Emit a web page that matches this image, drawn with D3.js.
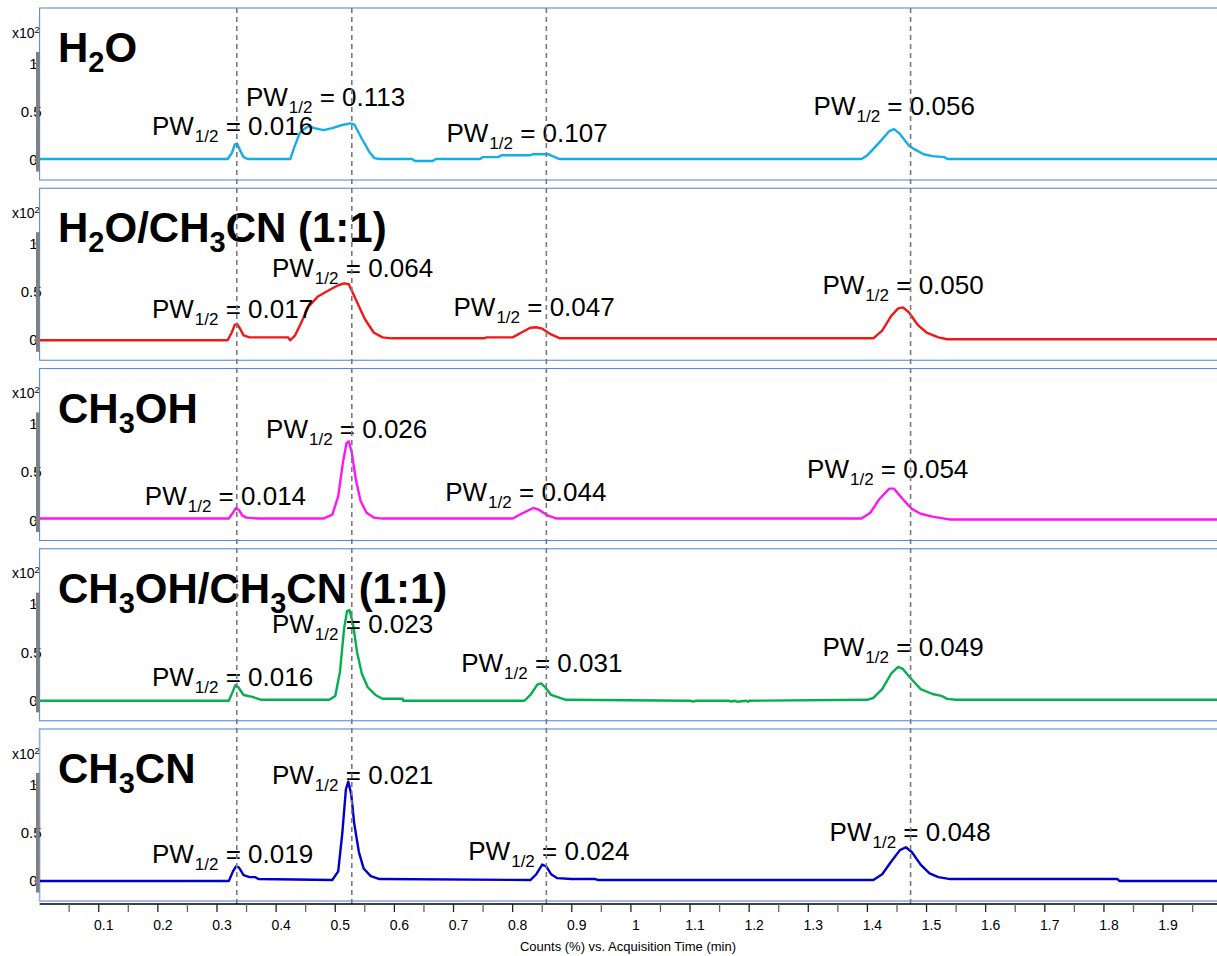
<!DOCTYPE html>
<html><head><meta charset="utf-8">
<script src="https://cdn.jsdelivr.net/npm/d3@7"></script>
<style>
html,body{margin:0;padding:0;background:#fff;}
svg text{font-family:"Liberation Sans",Arial,sans-serif;}
</style></head>
<body><svg id="c" width="1217" height="956"></svg>
<script>
// ---------- DATA ----------
const panelNames = ["H2O", "H2O/CH3CN (1:1)", "CH3OH", "CH3OH/CH3CN (1:1)", "CH3CN"];
const panelColors = ["#13AEEA", "#F01818", "#FF14F5", "#05AF50", "#0000CC"];
const yTicks = [0, 0.5, 1];
const yTickLabels = ["0", "0.5", "1"];
const xTicksMajor = [0.1,0.2,0.3,0.4,0.5,0.6,0.7,0.8,0.9,1.0,1.1,1.2,1.3,1.4,1.5,1.6,1.7,1.8,1.9];
const xTickLabels = ["0.1","0.2","0.3","0.4","0.5","0.6","0.7","0.8","0.9","1","1.1","1.2","1.3","1.4","1.5","1.6","1.7","1.8","1.9"];
const xTicksMinor = [0.05,0.15,0.25,0.35,0.45,0.55,0.65,0.75,0.85,0.95,1.05,1.15,1.25,1.35,1.45,1.55,1.65,1.75,1.85,1.95];
const refTimes = [0.3335, 0.528, 0.857, 1.473];
const xTitle = "Counts (%) vs. Acquisition Time (min)";

// H2O
const h2oTime = [0,0.318,0.325,0.330,0.334,0.339,0.345,0.352,0.424,0.430,0.440,0.447,0.455,0.465,0.480,0.495,0.510,0.525,0.532,0.545,0.558,0.566,0.575,0.630,0.635,0.665,0.670,0.745,0.750,0.775,0.782,0.830,0.835,0.860,0.875,0.880,1.390,1.400,1.420,1.437,1.445,1.455,1.470,1.480,1.495,1.510,1.530,1.535,2.05];
const h2oVal  = [0.01,0.01,0.07,0.16,0.17,0.10,0.03,0.01,0.01,0.12,0.28,0.32,0.35,0.33,0.31,0.33,0.36,0.38,0.37,0.22,0.08,0.02,0.01,0.01,-0.01,-0.01,0.01,0.01,0.03,0.03,0.05,0.05,0.06,0.06,0.02,0.01,0.01,0.05,0.18,0.30,0.32,0.27,0.15,0.11,0.06,0.04,0.03,0.01,0.01];
// H2O/CH3CN
const mixATime = [0,0.318,0.325,0.330,0.334,0.339,0.345,0.355,0.420,0.424,0.432,0.440,0.455,0.470,0.490,0.505,0.515,0.523,0.535,0.550,0.565,0.580,0.595,0.753,0.755,0.800,0.815,0.830,0.840,0.850,0.865,0.880,1.410,1.425,1.440,1.452,1.460,1.470,1.485,1.500,1.520,1.535,2.05];
const mixAVal  = [0.0,0.0,0.08,0.16,0.17,0.12,0.05,0.03,0.03,0.0,0.05,0.15,0.35,0.45,0.52,0.57,0.59,0.58,0.42,0.22,0.08,0.03,0.02,0.02,0.03,0.03,0.08,0.13,0.135,0.12,0.06,0.02,0.02,0.10,0.25,0.33,0.34,0.29,0.16,0.08,0.03,0.01,0.01];
// CH3OH
const meohTime = [0,0.320,0.327,0.332,0.337,0.343,0.350,0.370,0.480,0.495,0.505,0.513,0.519,0.523,0.528,0.535,0.543,0.553,0.565,0.580,0.800,0.815,0.835,0.845,0.860,0.875,1.390,1.405,1.420,1.437,1.445,1.460,1.475,1.490,1.510,1.530,1.540,2.05];
const meohVal  = [0.02,0.02,0.08,0.13,0.11,0.05,0.03,0.02,0.02,0.06,0.25,0.60,0.80,0.82,0.70,0.42,0.20,0.08,0.03,0.02,0.02,0.07,0.13,0.11,0.05,0.02,0.02,0.08,0.22,0.33,0.33,0.22,0.12,0.07,0.04,0.02,0.01,0.01];
// CH3OH/CH3CN
const mixBTime = [0,0.320,0.327,0.331,0.336,0.345,0.360,0.375,0.490,0.500,0.508,0.515,0.520,0.524,0.530,0.537,0.545,0.555,0.568,0.580,0.614,0.615,0.820,0.830,0.842,0.848,0.855,0.865,0.880,0.890,1.100,1.105,1.110,1.165,1.170,1.175,1.180,1.195,1.198,1.200,1.400,1.410,1.425,1.440,1.452,1.460,1.475,1.490,1.510,1.525,1.535,1.550,2.05];
const mixBVal  = [0.0,0.0,0.10,0.16,0.14,0.06,0.04,0.01,0.01,0.05,0.30,0.75,0.93,0.94,0.80,0.50,0.28,0.14,0.06,0.02,0.02,0.0,0.0,0.06,0.17,0.18,0.14,0.06,0.03,0.01,0.0,-0.01,0.0,0.0,-0.01,0.0,-0.01,0.0,-0.01,0.0,0.01,0.03,0.12,0.28,0.35,0.33,0.22,0.12,0.07,0.05,0.02,0.01,0.01];
// CH3CN
const acnTime = [0,0.320,0.327,0.332,0.337,0.345,0.355,0.365,0.370,0.495,0.505,0.512,0.518,0.522,0.527,0.532,0.540,0.548,0.560,0.575,0.830,0.840,0.850,0.857,0.865,0.875,0.900,0.940,0.945,1.410,1.425,1.440,1.455,1.465,1.475,1.490,1.505,1.520,1.530,1.540,1.823,1.826,2.05];
const acnVal  = [0.0,0.0,0.10,0.15,0.14,0.06,0.04,0.04,0.02,0.01,0.10,0.50,0.95,1.03,0.90,0.60,0.30,0.13,0.05,0.02,0.01,0.07,0.17,0.15,0.07,0.03,0.02,0.02,0.01,0.01,0.07,0.20,0.32,0.35,0.30,0.17,0.08,0.04,0.03,0.02,0.02,0.0,0.0];

const seriesTime = [h2oTime, mixATime, meohTime, mixBTime, acnTime];
const seriesVal = [h2oVal, mixAVal, meohVal, mixBVal, acnVal];

// peak half-width annotations per panel
const pwValues = [
  ["0.016","0.113","0.107","0.056"],
  ["0.017","0.064","0.047","0.050"],
  ["0.014","0.026","0.044","0.054"],
  ["0.016","0.023","0.031","0.049"],
  ["0.019","0.021","0.024","0.048"]
];
// annotation anchors (time, count units)
const pwAnchorT = [
  [0.190,0.349,0.688,1.309],
  [0.190,0.393,0.700,1.324],
  [0.178,0.383,0.686,1.298],
  [0.190,0.393,0.713,1.324],
  [0.190,0.393,0.725,1.336]
];
const pwAnchorV = [
  [0.259,0.560,0.187,0.466],
  [0.231,0.656,0.251,0.479],
  [0.161,0.855,0.205,0.440],
  [0.153,0.702,0.301,0.464],
  [0.187,1.005,0.218,0.415]
];

// ---------- LAYOUT ----------
const W = 1217, H = 956;
const left = 39.6;
const pxPerMin = 591.3;
const panelTop0 = 8, panelStep = 180.25, panelH = 172;
const svg = d3.select("#c");
svg.append("rect").attr("width", W).attr("height", H).attr("fill", "#fff");

const x = d3.scaleLinear().domain([0, (W - left) / pxPerMin]).range([left, W]);

function titleSegments(name) {
  const segs = [];
  let inParen = false;
  for (const ch of name) {
    if (ch === "(") inParen = true;
    const sub = !inParen && /[0-9]/.test(ch);
    if (segs.length && segs[segs.length-1].sub === sub) segs[segs.length-1].t += ch;
    else segs.push({t: ch, sub});
  }
  return segs;
}

const defs = svg.append("defs");

panelNames.forEach((name, i) => {
  const top = panelTop0 + i * panelStep;
  const y = d3.scaleLinear().domain([0, 1]).range([top + 152, top + 55.5]);
  const g = svg.append("g");

  defs.append("clipPath").attr("id", "clip" + i)
    .append("rect").attr("x", left).attr("y", top).attr("width", W - left).attr("height", panelH);

  // frame
  g.append("rect").attr("x", left).attr("y", top).attr("width", W - left + 5).attr("height", panelH)
    .attr("fill", "none").attr("stroke", i === 4 ? "#8FAEE0" : "#5A8ADB").attr("stroke-width", i === 4 ? 1.6 : 1.1);

  // trace
  const pts = seriesTime[i].map((t, k) => [t, seriesVal[i][k]]);
  g.append("path").datum(pts)
    .attr("clip-path", "url(#clip" + i + ")")
    .attr("fill", "none").attr("stroke", panelColors[i]).attr("stroke-width", 2.4)
    .attr("stroke-linejoin", "round")
    .attr("d", d3.line().x(d => x(d[0])).y(d => y(d[1])));

  // title
  const tt = g.append("text").attr("x", 58).attr("y", top + 54)
    .attr("font-size", 42).attr("font-weight", "bold").attr("fill", "#000");
  let shifted = false;
  titleSegments(name).forEach(s => {
    const ts = tt.append("tspan").text(s.t);
    if (s.sub) { ts.attr("font-size", 29).attr("dy", 10); shifted = true; }
    else if (shifted) { ts.attr("dy", -10); shifted = false; }
  });

  // PW annotations
  pwValues[i].forEach((v, k) => {
    const t = g.append("text").attr("x", x(pwAnchorT[i][k])).attr("y", y(pwAnchorV[i][k]))
      .attr("font-size", 26).attr("fill", "#000");
    t.append("tspan").text("PW");
    t.append("tspan").text("1/2").attr("font-size", 17).attr("dy", 7).attr("dx", 1);
    t.append("tspan").text(" = " + v).attr("dy", -7);
  });

  // y tick labels
  yTicks.forEach((v, k) => {
    const lab = yTickLabels[k];
    g.append("text").attr("x", lab === "0" ? 37.5 : (lab === "1" ? 37.5 : 41.5)).attr("y", y(v) + 5)
      .attr("text-anchor", "end").attr("font-size", 15).attr("fill", "#000").text(lab);
    g.append("line").attr("x1", 34).attr("x2", 38).attr("y1", y(v)).attr("y2", y(v))
      .attr("stroke", "#555").attr("stroke-width", 1);
  });
  // exponent label
  const ex = g.append("text").attr("x", 12).attr("y", top + 29.5).attr("font-size", 14).attr("fill", "#000");
  ex.append("tspan").text("x10");
  ex.append("tspan").text("2").attr("font-size", 9).attr("dy", -5);

  // gray axis bar
  g.append("rect").attr("x", 36).attr("width", 3.6)
    .attr("y", y(1.12)).attr("height", y(-0.12) - y(1.12)).attr("fill", "#808080");
});

// reference dashed lines
svg.append("g").selectAll("line").data(refTimes).join("line")
  .attr("x1", d => x(d)).attr("x2", d => x(d))
  .attr("y1", 8).attr("y2", 904)
  .attr("stroke", "#7a7a7a").attr("stroke-width", 1.6).attr("stroke-dasharray", "5,4");

// x axis
const axisY = 904;
const ax = svg.append("g");
ax.append("line").attr("x1", left).attr("x2", W).attr("y1", axisY).attr("y2", axisY)
  .attr("stroke", "#000").attr("stroke-width", 1.3);
ax.selectAll("line.maj").data(xTicksMajor).join("line").attr("class", "maj")
  .attr("x1", d => x(d)).attr("x2", d => x(d)).attr("y1", axisY).attr("y2", axisY + 8)
  .attr("stroke", "#222").attr("stroke-width", 1.3);
ax.selectAll("line.min").data(xTicksMinor).join("line").attr("class", "min")
  .attr("x1", d => x(d)).attr("x2", d => x(d)).attr("y1", axisY).attr("y2", axisY + 8)
  .attr("stroke", "#666").attr("stroke-width", 1.3);
ax.selectAll("text").data(xTicksMajor).join("text")
  .attr("x", d => x(d) + 5).attr("y", 930).attr("text-anchor", "middle")
  .attr("font-size", 14).attr("fill", "#000").text((d, k) => xTickLabels[k]);
svg.append("text").attr("x", 628).attr("y", 951).attr("text-anchor", "middle")
  .attr("font-size", 13).attr("fill", "#000").text(xTitle);
</script></body></html>
